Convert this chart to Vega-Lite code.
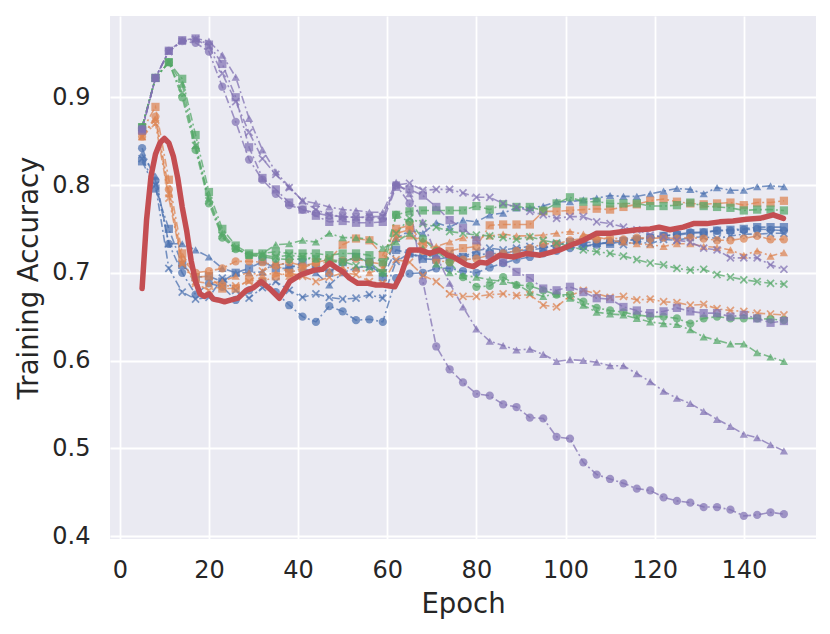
{
  "$schema": "https://vega.github.io/schema/vega-lite/v6.json",
  "width": 706,
  "height": 523,
  "autosize": "none",
  "padding": {"left": 110, "top": 16, "right": 14, "bottom": 95},
  "background": "white",
  "config": {
    "view": {"fill": "#EAEAF2", "stroke": null},
    "axis": {
      "domain": false,
      "ticks": false,
      "grid": true,
      "gridColor": "#FFFFFF",
      "gridWidth": 1.8,
      "labelFont": "DejaVu Sans",
      "labelFontSize": 24,
      "labelColor": "#262626",
      "titleFont": "DejaVu Sans",
      "titleFontSize": 27.5,
      "titleFontWeight": "normal",
      "titleColor": "#262626"
    }
  },
  "datasets": {
    "runs": [
      {"s":"bc","e":5,"v":0.842},{"s":"bc","e":8,"v":0.805},{"s":"bc","e":11,"v":0.733},{"s":"bc","e":14,"v":0.700},{"s":"bc","e":17,"v":0.675},{"s":"bc","e":20,"v":0.688},{"s":"bc","e":23,"v":0.684},{"s":"bc","e":26,"v":0.669},{"s":"bc","e":29,"v":0.680},{"s":"bc","e":32,"v":0.690},{"s":"bc","e":35,"v":0.678},{"s":"bc","e":38,"v":0.663},{"s":"bc","e":41,"v":0.650},{"s":"bc","e":44,"v":0.644},{"s":"bc","e":47,"v":0.662},{"s":"bc","e":50,"v":0.656},{"s":"bc","e":53,"v":0.646},{"s":"bc","e":56,"v":0.647},{"s":"bc","e":59,"v":0.644},{"s":"bc","e":62,"v":0.694},{"s":"bc","e":65,"v":0.699},{"s":"bc","e":68,"v":0.700},{"s":"bc","e":71,"v":0.705},{"s":"bc","e":74,"v":0.705},{"s":"bc","e":77,"v":0.702},{"s":"bc","e":80,"v":0.700},{"s":"bc","e":83,"v":0.706},{"s":"bc","e":86,"v":0.711},{"s":"bc","e":89,"v":0.715},{"s":"bc","e":92,"v":0.718},{"s":"bc","e":95,"v":0.722},{"s":"bc","e":98,"v":0.725},{"s":"bc","e":101,"v":0.728},{"s":"bc","e":104,"v":0.730},{"s":"bc","e":107,"v":0.732},{"s":"bc","e":110,"v":0.735},{"s":"bc","e":113,"v":0.737},{"s":"bc","e":116,"v":0.738},{"s":"bc","e":119,"v":0.740},{"s":"bc","e":122,"v":0.742},{"s":"bc","e":125,"v":0.744},{"s":"bc","e":128,"v":0.746},{"s":"bc","e":131,"v":0.746},{"s":"bc","e":134,"v":0.748},{"s":"bc","e":137,"v":0.748},{"s":"bc","e":140,"v":0.749},{"s":"bc","e":143,"v":0.750},{"s":"bc","e":146,"v":0.749},{"s":"bc","e":149,"v":0.748},
      {"s":"bs","e":5,"v":0.827},{"s":"bs","e":8,"v":0.796},{"s":"bs","e":11,"v":0.750},{"s":"bs","e":14,"v":0.709},{"s":"bs","e":17,"v":0.695},{"s":"bs","e":20,"v":0.696},{"s":"bs","e":23,"v":0.690},{"s":"bs","e":26,"v":0.700},{"s":"bs","e":29,"v":0.705},{"s":"bs","e":32,"v":0.713},{"s":"bs","e":35,"v":0.705},{"s":"bs","e":38,"v":0.705},{"s":"bs","e":41,"v":0.712},{"s":"bs","e":44,"v":0.705},{"s":"bs","e":47,"v":0.700},{"s":"bs","e":50,"v":0.712},{"s":"bs","e":53,"v":0.718},{"s":"bs","e":56,"v":0.712},{"s":"bs","e":59,"v":0.695},{"s":"bs","e":62,"v":0.726},{"s":"bs","e":65,"v":0.722},{"s":"bs","e":68,"v":0.716},{"s":"bs","e":71,"v":0.715},{"s":"bs","e":74,"v":0.718},{"s":"bs","e":77,"v":0.718},{"s":"bs","e":80,"v":0.720},{"s":"bs","e":83,"v":0.722},{"s":"bs","e":86,"v":0.722},{"s":"bs","e":89,"v":0.725},{"s":"bs","e":92,"v":0.726},{"s":"bs","e":95,"v":0.728},{"s":"bs","e":98,"v":0.732},{"s":"bs","e":101,"v":0.735},{"s":"bs","e":104,"v":0.735},{"s":"bs","e":107,"v":0.734},{"s":"bs","e":110,"v":0.733},{"s":"bs","e":113,"v":0.736},{"s":"bs","e":116,"v":0.738},{"s":"bs","e":119,"v":0.740},{"s":"bs","e":122,"v":0.742},{"s":"bs","e":125,"v":0.743},{"s":"bs","e":128,"v":0.745},{"s":"bs","e":131,"v":0.746},{"s":"bs","e":134,"v":0.748},{"s":"bs","e":137,"v":0.749},{"s":"bs","e":140,"v":0.750},{"s":"bs","e":143,"v":0.752},{"s":"bs","e":146,"v":0.752},{"s":"bs","e":149,"v":0.752},
      {"s":"bt","e":5,"v":0.835},{"s":"bt","e":8,"v":0.810},{"s":"bt","e":11,"v":0.733},{"s":"bt","e":14,"v":0.733},{"s":"bt","e":17,"v":0.726},{"s":"bt","e":20,"v":0.718},{"s":"bt","e":23,"v":0.705},{"s":"bt","e":26,"v":0.700},{"s":"bt","e":29,"v":0.700},{"s":"bt","e":32,"v":0.701},{"s":"bt","e":35,"v":0.712},{"s":"bt","e":38,"v":0.708},{"s":"bt","e":41,"v":0.705},{"s":"bt","e":44,"v":0.700},{"s":"bt","e":47,"v":0.686},{"s":"bt","e":50,"v":0.700},{"s":"bt","e":53,"v":0.706},{"s":"bt","e":56,"v":0.707},{"s":"bt","e":59,"v":0.700},{"s":"bt","e":62,"v":0.739},{"s":"bt","e":65,"v":0.748},{"s":"bt","e":68,"v":0.745},{"s":"bt","e":71,"v":0.757},{"s":"bt","e":74,"v":0.752},{"s":"bt","e":77,"v":0.760},{"s":"bt","e":80,"v":0.758},{"s":"bt","e":83,"v":0.766},{"s":"bt","e":86,"v":0.768},{"s":"bt","e":89,"v":0.774},{"s":"bt","e":92,"v":0.774},{"s":"bt","e":95,"v":0.776},{"s":"bt","e":98,"v":0.781},{"s":"bt","e":101,"v":0.781},{"s":"bt","e":104,"v":0.783},{"s":"bt","e":107,"v":0.785},{"s":"bt","e":110,"v":0.788},{"s":"bt","e":113,"v":0.787},{"s":"bt","e":116,"v":0.787},{"s":"bt","e":119,"v":0.790},{"s":"bt","e":122,"v":0.793},{"s":"bt","e":125,"v":0.796},{"s":"bt","e":128,"v":0.795},{"s":"bt","e":131,"v":0.790},{"s":"bt","e":134,"v":0.797},{"s":"bt","e":137,"v":0.794},{"s":"bt","e":140,"v":0.794},{"s":"bt","e":143,"v":0.798},{"s":"bt","e":146,"v":0.799},{"s":"bt","e":149,"v":0.798},
      {"s":"bx","e":5,"v":0.830},{"s":"bx","e":8,"v":0.800},{"s":"bx","e":11,"v":0.705},{"s":"bx","e":14,"v":0.678},{"s":"bx","e":17,"v":0.670},{"s":"bx","e":20,"v":0.672},{"s":"bx","e":23,"v":0.694},{"s":"bx","e":26,"v":0.680},{"s":"bx","e":29,"v":0.671},{"s":"bx","e":32,"v":0.683},{"s":"bx","e":35,"v":0.690},{"s":"bx","e":38,"v":0.680},{"s":"bx","e":41,"v":0.672},{"s":"bx","e":44,"v":0.676},{"s":"bx","e":47,"v":0.672},{"s":"bx","e":50,"v":0.670},{"s":"bx","e":53,"v":0.671},{"s":"bx","e":56,"v":0.675},{"s":"bx","e":59,"v":0.671},{"s":"bx","e":62,"v":0.713},{"s":"bx","e":65,"v":0.722},{"s":"bx","e":68,"v":0.718},{"s":"bx","e":71,"v":0.720},{"s":"bx","e":74,"v":0.722},{"s":"bx","e":77,"v":0.718},{"s":"bx","e":80,"v":0.725},{"s":"bx","e":83,"v":0.728},{"s":"bx","e":86,"v":0.726},{"s":"bx","e":89,"v":0.728},{"s":"bx","e":92,"v":0.730},{"s":"bx","e":95,"v":0.728},{"s":"bx","e":98,"v":0.732},{"s":"bx","e":101,"v":0.734},{"s":"bx","e":104,"v":0.730},{"s":"bx","e":107,"v":0.733},{"s":"bx","e":110,"v":0.735},{"s":"bx","e":113,"v":0.732},{"s":"bx","e":116,"v":0.736},{"s":"bx","e":119,"v":0.733},{"s":"bx","e":122,"v":0.738},{"s":"bx","e":125,"v":0.737},{"s":"bx","e":128,"v":0.740},{"s":"bx","e":131,"v":0.741},{"s":"bx","e":134,"v":0.739},{"s":"bx","e":137,"v":0.742},{"s":"bx","e":140,"v":0.744},{"s":"bx","e":143,"v":0.744},{"s":"bx","e":146,"v":0.745},{"s":"bx","e":149,"v":0.745},
      {"s":"oc","e":5,"v":0.855},{"s":"oc","e":8,"v":0.878},{"s":"oc","e":11,"v":0.795},{"s":"oc","e":14,"v":0.715},{"s":"oc","e":17,"v":0.700},{"s":"oc","e":20,"v":0.702},{"s":"oc","e":23,"v":0.705},{"s":"oc","e":26,"v":0.713},{"s":"oc","e":29,"v":0.713},{"s":"oc","e":32,"v":0.712},{"s":"oc","e":35,"v":0.708},{"s":"oc","e":38,"v":0.712},{"s":"oc","e":41,"v":0.708},{"s":"oc","e":44,"v":0.711},{"s":"oc","e":47,"v":0.712},{"s":"oc","e":50,"v":0.714},{"s":"oc","e":53,"v":0.716},{"s":"oc","e":56,"v":0.712},{"s":"oc","e":59,"v":0.710},{"s":"oc","e":62,"v":0.745},{"s":"oc","e":65,"v":0.749},{"s":"oc","e":68,"v":0.725},{"s":"oc","e":71,"v":0.714},{"s":"oc","e":74,"v":0.712},{"s":"oc","e":77,"v":0.715},{"s":"oc","e":80,"v":0.716},{"s":"oc","e":83,"v":0.720},{"s":"oc","e":86,"v":0.722},{"s":"oc","e":89,"v":0.725},{"s":"oc","e":92,"v":0.728},{"s":"oc","e":95,"v":0.733},{"s":"oc","e":98,"v":0.733},{"s":"oc","e":101,"v":0.737},{"s":"oc","e":104,"v":0.739},{"s":"oc","e":107,"v":0.738},{"s":"oc","e":110,"v":0.740},{"s":"oc","e":113,"v":0.738},{"s":"oc","e":116,"v":0.740},{"s":"oc","e":119,"v":0.739},{"s":"oc","e":122,"v":0.740},{"s":"oc","e":125,"v":0.739},{"s":"oc","e":128,"v":0.740},{"s":"oc","e":131,"v":0.739},{"s":"oc","e":134,"v":0.737},{"s":"oc","e":137,"v":0.737},{"s":"oc","e":140,"v":0.739},{"s":"oc","e":143,"v":0.742},{"s":"oc","e":146,"v":0.738},{"s":"oc","e":149,"v":0.738},
      {"s":"os","e":5,"v":0.862},{"s":"os","e":8,"v":0.889},{"s":"os","e":11,"v":0.806},{"s":"os","e":14,"v":0.722},{"s":"os","e":17,"v":0.695},{"s":"os","e":20,"v":0.696},{"s":"os","e":23,"v":0.682},{"s":"os","e":26,"v":0.682},{"s":"os","e":29,"v":0.692},{"s":"os","e":32,"v":0.690},{"s":"os","e":35,"v":0.696},{"s":"os","e":38,"v":0.700},{"s":"os","e":41,"v":0.705},{"s":"os","e":44,"v":0.712},{"s":"os","e":47,"v":0.715},{"s":"os","e":50,"v":0.732},{"s":"os","e":53,"v":0.739},{"s":"os","e":56,"v":0.737},{"s":"os","e":59,"v":0.720},{"s":"os","e":62,"v":0.750},{"s":"os","e":65,"v":0.754},{"s":"os","e":68,"v":0.733},{"s":"os","e":71,"v":0.726},{"s":"os","e":74,"v":0.725},{"s":"os","e":77,"v":0.728},{"s":"os","e":80,"v":0.730},{"s":"os","e":83,"v":0.754},{"s":"os","e":86,"v":0.755},{"s":"os","e":89,"v":0.755},{"s":"os","e":92,"v":0.755},{"s":"os","e":95,"v":0.770},{"s":"os","e":98,"v":0.770},{"s":"os","e":101,"v":0.771},{"s":"os","e":104,"v":0.772},{"s":"os","e":107,"v":0.773},{"s":"os","e":110,"v":0.772},{"s":"os","e":113,"v":0.775},{"s":"os","e":116,"v":0.778},{"s":"os","e":119,"v":0.782},{"s":"os","e":122,"v":0.784},{"s":"os","e":125,"v":0.781},{"s":"os","e":128,"v":0.779},{"s":"os","e":131,"v":0.778},{"s":"os","e":134,"v":0.779},{"s":"os","e":137,"v":0.780},{"s":"os","e":140,"v":0.777},{"s":"os","e":143,"v":0.780},{"s":"os","e":146,"v":0.780},{"s":"os","e":149,"v":0.782},
      {"s":"ot","e":5,"v":0.855},{"s":"ot","e":8,"v":0.875},{"s":"ot","e":11,"v":0.790},{"s":"ot","e":14,"v":0.712},{"s":"ot","e":17,"v":0.690},{"s":"ot","e":20,"v":0.688},{"s":"ot","e":23,"v":0.690},{"s":"ot","e":26,"v":0.696},{"s":"ot","e":29,"v":0.700},{"s":"ot","e":32,"v":0.697},{"s":"ot","e":35,"v":0.700},{"s":"ot","e":38,"v":0.696},{"s":"ot","e":41,"v":0.700},{"s":"ot","e":44,"v":0.705},{"s":"ot","e":47,"v":0.702},{"s":"ot","e":50,"v":0.706},{"s":"ot","e":53,"v":0.705},{"s":"ot","e":56,"v":0.700},{"s":"ot","e":59,"v":0.705},{"s":"ot","e":62,"v":0.740},{"s":"ot","e":65,"v":0.742},{"s":"ot","e":68,"v":0.737},{"s":"ot","e":71,"v":0.730},{"s":"ot","e":74,"v":0.735},{"s":"ot","e":77,"v":0.740},{"s":"ot","e":80,"v":0.740},{"s":"ot","e":83,"v":0.742},{"s":"ot","e":86,"v":0.744},{"s":"ot","e":89,"v":0.742},{"s":"ot","e":92,"v":0.742},{"s":"ot","e":95,"v":0.743},{"s":"ot","e":98,"v":0.745},{"s":"ot","e":101,"v":0.747},{"s":"ot","e":104,"v":0.744},{"s":"ot","e":107,"v":0.741},{"s":"ot","e":110,"v":0.737},{"s":"ot","e":113,"v":0.735},{"s":"ot","e":116,"v":0.733},{"s":"ot","e":119,"v":0.732},{"s":"ot","e":122,"v":0.730},{"s":"ot","e":125,"v":0.733},{"s":"ot","e":128,"v":0.733},{"s":"ot","e":131,"v":0.730},{"s":"ot","e":134,"v":0.729},{"s":"ot","e":137,"v":0.726},{"s":"ot","e":140,"v":0.720},{"s":"ot","e":143,"v":0.725},{"s":"ot","e":146,"v":0.719},{"s":"ot","e":149,"v":0.723},
      {"s":"ox","e":5,"v":0.855},{"s":"ox","e":8,"v":0.870},{"s":"ox","e":11,"v":0.785},{"s":"ox","e":14,"v":0.710},{"s":"ox","e":17,"v":0.688},{"s":"ox","e":20,"v":0.680},{"s":"ox","e":23,"v":0.685},{"s":"ox","e":26,"v":0.685},{"s":"ox","e":29,"v":0.690},{"s":"ox","e":32,"v":0.702},{"s":"ox","e":35,"v":0.709},{"s":"ox","e":38,"v":0.700},{"s":"ox","e":41,"v":0.696},{"s":"ox","e":44,"v":0.690},{"s":"ox","e":47,"v":0.695},{"s":"ox","e":50,"v":0.700},{"s":"ox","e":53,"v":0.698},{"s":"ox","e":56,"v":0.690},{"s":"ox","e":59,"v":0.688},{"s":"ox","e":62,"v":0.715},{"s":"ox","e":65,"v":0.712},{"s":"ox","e":68,"v":0.697},{"s":"ox","e":71,"v":0.690},{"s":"ox","e":74,"v":0.676},{"s":"ox","e":77,"v":0.673},{"s":"ox","e":80,"v":0.673},{"s":"ox","e":83,"v":0.675},{"s":"ox","e":86,"v":0.676},{"s":"ox","e":89,"v":0.674},{"s":"ox","e":92,"v":0.675},{"s":"ox","e":95,"v":0.663},{"s":"ox","e":98,"v":0.661},{"s":"ox","e":101,"v":0.674},{"s":"ox","e":104,"v":0.680},{"s":"ox","e":107,"v":0.676},{"s":"ox","e":110,"v":0.672},{"s":"ox","e":113,"v":0.673},{"s":"ox","e":116,"v":0.669},{"s":"ox","e":119,"v":0.670},{"s":"ox","e":122,"v":0.667},{"s":"ox","e":125,"v":0.666},{"s":"ox","e":128,"v":0.663},{"s":"ox","e":131,"v":0.664},{"s":"ox","e":134,"v":0.659},{"s":"ox","e":137,"v":0.657},{"s":"ox","e":140,"v":0.656},{"s":"ox","e":143,"v":0.654},{"s":"ox","e":146,"v":0.653},{"s":"ox","e":149,"v":0.652},
      {"s":"gc","e":5,"v":0.866},{"s":"gc","e":8,"v":0.922},{"s":"gc","e":11,"v":0.940},{"s":"gc","e":14,"v":0.900},{"s":"gc","e":17,"v":0.840},{"s":"gc","e":20,"v":0.779},{"s":"gc","e":23,"v":0.740},{"s":"gc","e":26,"v":0.727},{"s":"gc","e":29,"v":0.720},{"s":"gc","e":32,"v":0.718},{"s":"gc","e":35,"v":0.716},{"s":"gc","e":38,"v":0.715},{"s":"gc","e":41,"v":0.716},{"s":"gc","e":44,"v":0.716},{"s":"gc","e":47,"v":0.713},{"s":"gc","e":50,"v":0.712},{"s":"gc","e":53,"v":0.718},{"s":"gc","e":56,"v":0.712},{"s":"gc","e":59,"v":0.700},{"s":"gc","e":62,"v":0.766},{"s":"gc","e":65,"v":0.758},{"s":"gc","e":68,"v":0.739},{"s":"gc","e":71,"v":0.725},{"s":"gc","e":74,"v":0.712},{"s":"gc","e":77,"v":0.695},{"s":"gc","e":80,"v":0.684},{"s":"gc","e":83,"v":0.685},{"s":"gc","e":86,"v":0.695},{"s":"gc","e":89,"v":0.686},{"s":"gc","e":92,"v":0.685},{"s":"gc","e":95,"v":0.680},{"s":"gc","e":98,"v":0.675},{"s":"gc","e":101,"v":0.675},{"s":"gc","e":104,"v":0.667},{"s":"gc","e":107,"v":0.660},{"s":"gc","e":110,"v":0.657},{"s":"gc","e":113,"v":0.655},{"s":"gc","e":116,"v":0.652},{"s":"gc","e":119,"v":0.650},{"s":"gc","e":122,"v":0.650},{"s":"gc","e":125,"v":0.648},{"s":"gc","e":128,"v":0.642},{"s":"gc","e":131,"v":0.648},{"s":"gc","e":134,"v":0.650},{"s":"gc","e":137,"v":0.648},{"s":"gc","e":140,"v":0.648},{"s":"gc","e":143,"v":0.648},{"s":"gc","e":146,"v":0.647},{"s":"gc","e":149,"v":0.646},
      {"s":"gs","e":5,"v":0.866},{"s":"gs","e":8,"v":0.922},{"s":"gs","e":11,"v":0.940},{"s":"gs","e":14,"v":0.921},{"s":"gs","e":17,"v":0.857},{"s":"gs","e":20,"v":0.792},{"s":"gs","e":23,"v":0.750},{"s":"gs","e":26,"v":0.731},{"s":"gs","e":29,"v":0.722},{"s":"gs","e":32,"v":0.722},{"s":"gs","e":35,"v":0.724},{"s":"gs","e":38,"v":0.722},{"s":"gs","e":41,"v":0.722},{"s":"gs","e":44,"v":0.722},{"s":"gs","e":47,"v":0.720},{"s":"gs","e":50,"v":0.722},{"s":"gs","e":53,"v":0.722},{"s":"gs","e":56,"v":0.720},{"s":"gs","e":59,"v":0.712},{"s":"gs","e":62,"v":0.766},{"s":"gs","e":65,"v":0.770},{"s":"gs","e":68,"v":0.771},{"s":"gs","e":71,"v":0.771},{"s":"gs","e":74,"v":0.771},{"s":"gs","e":77,"v":0.771},{"s":"gs","e":80,"v":0.776},{"s":"gs","e":83,"v":0.772},{"s":"gs","e":86,"v":0.778},{"s":"gs","e":89,"v":0.775},{"s":"gs","e":92,"v":0.775},{"s":"gs","e":95,"v":0.771},{"s":"gs","e":98,"v":0.779},{"s":"gs","e":101,"v":0.786},{"s":"gs","e":104,"v":0.781},{"s":"gs","e":107,"v":0.781},{"s":"gs","e":110,"v":0.779},{"s":"gs","e":113,"v":0.779},{"s":"gs","e":116,"v":0.779},{"s":"gs","e":119,"v":0.776},{"s":"gs","e":122,"v":0.776},{"s":"gs","e":125,"v":0.777},{"s":"gs","e":128,"v":0.780},{"s":"gs","e":131,"v":0.776},{"s":"gs","e":134,"v":0.775},{"s":"gs","e":137,"v":0.774},{"s":"gs","e":140,"v":0.771},{"s":"gs","e":143,"v":0.772},{"s":"gs","e":146,"v":0.772},{"s":"gs","e":149,"v":0.771},
      {"s":"gt","e":5,"v":0.866},{"s":"gt","e":8,"v":0.922},{"s":"gt","e":11,"v":0.940},{"s":"gt","e":14,"v":0.915},{"s":"gt","e":17,"v":0.845},{"s":"gt","e":20,"v":0.785},{"s":"gt","e":23,"v":0.745},{"s":"gt","e":26,"v":0.728},{"s":"gt","e":29,"v":0.720},{"s":"gt","e":32,"v":0.722},{"s":"gt","e":35,"v":0.732},{"s":"gt","e":38,"v":0.733},{"s":"gt","e":41,"v":0.737},{"s":"gt","e":44,"v":0.735},{"s":"gt","e":47,"v":0.745},{"s":"gt","e":50,"v":0.740},{"s":"gt","e":53,"v":0.740},{"s":"gt","e":56,"v":0.738},{"s":"gt","e":59,"v":0.728},{"s":"gt","e":62,"v":0.735},{"s":"gt","e":65,"v":0.745},{"s":"gt","e":68,"v":0.728},{"s":"gt","e":71,"v":0.710},{"s":"gt","e":74,"v":0.700},{"s":"gt","e":77,"v":0.697},{"s":"gt","e":80,"v":0.695},{"s":"gt","e":83,"v":0.692},{"s":"gt","e":86,"v":0.690},{"s":"gt","e":89,"v":0.687},{"s":"gt","e":92,"v":0.678},{"s":"gt","e":95,"v":0.673},{"s":"gt","e":98,"v":0.676},{"s":"gt","e":101,"v":0.671},{"s":"gt","e":104,"v":0.663},{"s":"gt","e":107,"v":0.655},{"s":"gt","e":110,"v":0.653},{"s":"gt","e":113,"v":0.652},{"s":"gt","e":116,"v":0.648},{"s":"gt","e":119,"v":0.644},{"s":"gt","e":122,"v":0.642},{"s":"gt","e":125,"v":0.641},{"s":"gt","e":128,"v":0.635},{"s":"gt","e":131,"v":0.627},{"s":"gt","e":134,"v":0.623},{"s":"gt","e":137,"v":0.619},{"s":"gt","e":140,"v":0.619},{"s":"gt","e":143,"v":0.609},{"s":"gt","e":146,"v":0.604},{"s":"gt","e":149,"v":0.599},
      {"s":"gx","e":5,"v":0.866},{"s":"gx","e":8,"v":0.922},{"s":"gx","e":11,"v":0.940},{"s":"gx","e":14,"v":0.905},{"s":"gx","e":17,"v":0.845},{"s":"gx","e":20,"v":0.782},{"s":"gx","e":23,"v":0.742},{"s":"gx","e":26,"v":0.728},{"s":"gx","e":29,"v":0.720},{"s":"gx","e":32,"v":0.720},{"s":"gx","e":35,"v":0.718},{"s":"gx","e":38,"v":0.720},{"s":"gx","e":41,"v":0.718},{"s":"gx","e":44,"v":0.716},{"s":"gx","e":47,"v":0.715},{"s":"gx","e":50,"v":0.713},{"s":"gx","e":53,"v":0.708},{"s":"gx","e":56,"v":0.706},{"s":"gx","e":59,"v":0.700},{"s":"gx","e":62,"v":0.745},{"s":"gx","e":65,"v":0.762},{"s":"gx","e":68,"v":0.756},{"s":"gx","e":71,"v":0.752},{"s":"gx","e":74,"v":0.747},{"s":"gx","e":77,"v":0.745},{"s":"gx","e":80,"v":0.743},{"s":"gx","e":83,"v":0.742},{"s":"gx","e":86,"v":0.740},{"s":"gx","e":89,"v":0.738},{"s":"gx","e":92,"v":0.741},{"s":"gx","e":95,"v":0.737},{"s":"gx","e":98,"v":0.734},{"s":"gx","e":101,"v":0.730},{"s":"gx","e":104,"v":0.726},{"s":"gx","e":107,"v":0.724},{"s":"gx","e":110,"v":0.722},{"s":"gx","e":113,"v":0.719},{"s":"gx","e":116,"v":0.715},{"s":"gx","e":119,"v":0.711},{"s":"gx","e":122,"v":0.709},{"s":"gx","e":125,"v":0.705},{"s":"gx","e":128,"v":0.703},{"s":"gx","e":131,"v":0.704},{"s":"gx","e":134,"v":0.698},{"s":"gx","e":137,"v":0.695},{"s":"gx","e":140,"v":0.692},{"s":"gx","e":143,"v":0.690},{"s":"gx","e":146,"v":0.688},{"s":"gx","e":149,"v":0.687},
      {"s":"pc","e":5,"v":0.864},{"s":"pc","e":8,"v":0.922},{"s":"pc","e":11,"v":0.953},{"s":"pc","e":14,"v":0.964},{"s":"pc","e":17,"v":0.962},{"s":"pc","e":20,"v":0.952},{"s":"pc","e":23,"v":0.912},{"s":"pc","e":26,"v":0.872},{"s":"pc","e":29,"v":0.829},{"s":"pc","e":32,"v":0.806},{"s":"pc","e":35,"v":0.790},{"s":"pc","e":38,"v":0.777},{"s":"pc","e":41,"v":0.772},{"s":"pc","e":44,"v":0.768},{"s":"pc","e":47,"v":0.765},{"s":"pc","e":50,"v":0.764},{"s":"pc","e":53,"v":0.763},{"s":"pc","e":56,"v":0.763},{"s":"pc","e":59,"v":0.762},{"s":"pc","e":62,"v":0.800},{"s":"pc","e":65,"v":0.779},{"s":"pc","e":68,"v":0.690},{"s":"pc","e":71,"v":0.616},{"s":"pc","e":74,"v":0.590},{"s":"pc","e":77,"v":0.575},{"s":"pc","e":80,"v":0.562},{"s":"pc","e":83,"v":0.560},{"s":"pc","e":86,"v":0.550},{"s":"pc","e":89,"v":0.547},{"s":"pc","e":92,"v":0.535},{"s":"pc","e":95,"v":0.534},{"s":"pc","e":98,"v":0.513},{"s":"pc","e":101,"v":0.511},{"s":"pc","e":104,"v":0.484},{"s":"pc","e":107,"v":0.470},{"s":"pc","e":110,"v":0.465},{"s":"pc","e":113,"v":0.460},{"s":"pc","e":116,"v":0.454},{"s":"pc","e":119,"v":0.452},{"s":"pc","e":122,"v":0.444},{"s":"pc","e":125,"v":0.440},{"s":"pc","e":128,"v":0.438},{"s":"pc","e":131,"v":0.433},{"s":"pc","e":134,"v":0.433},{"s":"pc","e":137,"v":0.430},{"s":"pc","e":140,"v":0.423},{"s":"pc","e":143,"v":0.424},{"s":"pc","e":146,"v":0.427},{"s":"pc","e":149,"v":0.425},
      {"s":"ps","e":5,"v":0.862},{"s":"ps","e":8,"v":0.922},{"s":"ps","e":11,"v":0.953},{"s":"ps","e":14,"v":0.965},{"s":"ps","e":17,"v":0.967},{"s":"ps","e":20,"v":0.960},{"s":"ps","e":23,"v":0.938},{"s":"ps","e":26,"v":0.900},{"s":"ps","e":29,"v":0.843},{"s":"ps","e":32,"v":0.808},{"s":"ps","e":35,"v":0.795},{"s":"ps","e":38,"v":0.780},{"s":"ps","e":41,"v":0.772},{"s":"ps","e":44,"v":0.765},{"s":"ps","e":47,"v":0.758},{"s":"ps","e":50,"v":0.759},{"s":"ps","e":53,"v":0.757},{"s":"ps","e":56,"v":0.757},{"s":"ps","e":59,"v":0.758},{"s":"ps","e":62,"v":0.798},{"s":"ps","e":65,"v":0.795},{"s":"ps","e":68,"v":0.788},{"s":"ps","e":71,"v":0.775},{"s":"ps","e":74,"v":0.760},{"s":"ps","e":77,"v":0.751},{"s":"ps","e":80,"v":0.737},{"s":"ps","e":83,"v":0.720},{"s":"ps","e":86,"v":0.712},{"s":"ps","e":89,"v":0.701},{"s":"ps","e":92,"v":0.694},{"s":"ps","e":95,"v":0.682},{"s":"ps","e":98,"v":0.680},{"s":"ps","e":101,"v":0.684},{"s":"ps","e":104,"v":0.678},{"s":"ps","e":107,"v":0.671},{"s":"ps","e":110,"v":0.670},{"s":"ps","e":113,"v":0.661},{"s":"ps","e":116,"v":0.657},{"s":"ps","e":119,"v":0.654},{"s":"ps","e":122,"v":0.656},{"s":"ps","e":125,"v":0.660},{"s":"ps","e":128,"v":0.656},{"s":"ps","e":131,"v":0.654},{"s":"ps","e":134,"v":0.654},{"s":"ps","e":137,"v":0.650},{"s":"ps","e":140,"v":0.652},{"s":"ps","e":143,"v":0.648},{"s":"ps","e":146,"v":0.643},{"s":"ps","e":149,"v":0.645},
      {"s":"pt","e":5,"v":0.864},{"s":"pt","e":8,"v":0.922},{"s":"pt","e":11,"v":0.953},{"s":"pt","e":14,"v":0.965},{"s":"pt","e":17,"v":0.967},{"s":"pt","e":20,"v":0.964},{"s":"pt","e":23,"v":0.948},{"s":"pt","e":26,"v":0.923},{"s":"pt","e":29,"v":0.876},{"s":"pt","e":32,"v":0.840},{"s":"pt","e":35,"v":0.815},{"s":"pt","e":38,"v":0.798},{"s":"pt","e":41,"v":0.782},{"s":"pt","e":44,"v":0.779},{"s":"pt","e":47,"v":0.775},{"s":"pt","e":50,"v":0.772},{"s":"pt","e":53,"v":0.771},{"s":"pt","e":56,"v":0.769},{"s":"pt","e":59,"v":0.769},{"s":"pt","e":62,"v":0.803},{"s":"pt","e":65,"v":0.790},{"s":"pt","e":68,"v":0.758},{"s":"pt","e":71,"v":0.720},{"s":"pt","e":74,"v":0.688},{"s":"pt","e":77,"v":0.661},{"s":"pt","e":80,"v":0.636},{"s":"pt","e":83,"v":0.622},{"s":"pt","e":86,"v":0.617},{"s":"pt","e":89,"v":0.612},{"s":"pt","e":92,"v":0.613},{"s":"pt","e":95,"v":0.607},{"s":"pt","e":98,"v":0.599},{"s":"pt","e":101,"v":0.601},{"s":"pt","e":104,"v":0.600},{"s":"pt","e":107,"v":0.598},{"s":"pt","e":110,"v":0.594},{"s":"pt","e":113,"v":0.594},{"s":"pt","e":116,"v":0.585},{"s":"pt","e":119,"v":0.576},{"s":"pt","e":122,"v":0.565},{"s":"pt","e":125,"v":0.557},{"s":"pt","e":128,"v":0.551},{"s":"pt","e":131,"v":0.542},{"s":"pt","e":134,"v":0.533},{"s":"pt","e":137,"v":0.525},{"s":"pt","e":140,"v":0.516},{"s":"pt","e":143,"v":0.512},{"s":"pt","e":146,"v":0.504},{"s":"pt","e":149,"v":0.497},
      {"s":"px","e":5,"v":0.864},{"s":"px","e":8,"v":0.922},{"s":"px","e":11,"v":0.952},{"s":"px","e":14,"v":0.964},{"s":"px","e":17,"v":0.966},{"s":"px","e":20,"v":0.958},{"s":"px","e":23,"v":0.927},{"s":"px","e":26,"v":0.895},{"s":"px","e":29,"v":0.860},{"s":"px","e":32,"v":0.830},{"s":"px","e":35,"v":0.812},{"s":"px","e":38,"v":0.797},{"s":"px","e":41,"v":0.782},{"s":"px","e":44,"v":0.772},{"s":"px","e":47,"v":0.766},{"s":"px","e":50,"v":0.764},{"s":"px","e":53,"v":0.763},{"s":"px","e":56,"v":0.764},{"s":"px","e":59,"v":0.764},{"s":"px","e":62,"v":0.800},{"s":"px","e":65,"v":0.802},{"s":"px","e":68,"v":0.794},{"s":"px","e":71,"v":0.795},{"s":"px","e":74,"v":0.795},{"s":"px","e":77,"v":0.791},{"s":"px","e":80,"v":0.786},{"s":"px","e":83,"v":0.786},{"s":"px","e":86,"v":0.779},{"s":"px","e":89,"v":0.775},{"s":"px","e":92,"v":0.770},{"s":"px","e":95,"v":0.766},{"s":"px","e":98,"v":0.762},{"s":"px","e":101,"v":0.764},{"s":"px","e":104,"v":0.764},{"s":"px","e":107,"v":0.758},{"s":"px","e":110,"v":0.756},{"s":"px","e":113,"v":0.752},{"s":"px","e":116,"v":0.749},{"s":"px","e":119,"v":0.743},{"s":"px","e":122,"v":0.741},{"s":"px","e":125,"v":0.737},{"s":"px","e":128,"v":0.735},{"s":"px","e":131,"v":0.728},{"s":"px","e":134,"v":0.726},{"s":"px","e":137,"v":0.717},{"s":"px","e":140,"v":0.717},{"s":"px","e":143,"v":0.717},{"s":"px","e":146,"v":0.709},{"s":"px","e":149,"v":0.704}
    ],
    "red": [
      {"e":5,"v":0.682},{"e":6,"v":0.760},{"e":7,"v":0.810},{"e":8,"v":0.835},{"e":9,"v":0.848},{"e":10,"v":0.853},{"e":11,"v":0.848},{"e":12,"v":0.833},{"e":13,"v":0.808},{"e":14,"v":0.775},{"e":15,"v":0.748},{"e":16,"v":0.714},{"e":17,"v":0.690},{"e":18,"v":0.676},{"e":19,"v":0.673},{"e":20,"v":0.676},{"e":21,"v":0.670},{"e":22,"v":0.669},{"e":23.5,"v":0.667},{"e":25,"v":0.669},{"e":26.5,"v":0.671},{"e":28.4,"v":0.680},{"e":30,"v":0.683},{"e":31.7,"v":0.690},{"e":33.6,"v":0.682},{"e":35.8,"v":0.671},{"e":37,"v":0.680},{"e":38.1,"v":0.690},{"e":40.7,"v":0.698},{"e":43.7,"v":0.703},{"e":45.5,"v":0.704},{"e":47.1,"v":0.711},{"e":48.5,"v":0.706},{"e":50.1,"v":0.701},{"e":51.5,"v":0.694},{"e":53.4,"v":0.688},{"e":55.7,"v":0.688},{"e":57.5,"v":0.686},{"e":59.1,"v":0.686},{"e":61.7,"v":0.684},{"e":63.2,"v":0.699},{"e":65,"v":0.726},{"e":67.3,"v":0.726},{"e":69.5,"v":0.722},{"e":71.8,"v":0.726},{"e":73.5,"v":0.720},{"e":74.8,"v":0.718},{"e":77.8,"v":0.709},{"e":79.3,"v":0.707},{"e":80.8,"v":0.712},{"e":82.3,"v":0.711},{"e":85.3,"v":0.720},{"e":88.3,"v":0.718},{"e":91.3,"v":0.722},{"e":94.3,"v":0.720},{"e":97.3,"v":0.724},{"e":98.7,"v":0.726},{"e":101,"v":0.731},{"e":104,"v":0.737},{"e":107,"v":0.745},{"e":110,"v":0.745},{"e":113,"v":0.747},{"e":116,"v":0.749},{"e":119,"v":0.750},{"e":121,"v":0.752},{"e":123.4,"v":0.749},{"e":126.4,"v":0.752},{"e":128.7,"v":0.756},{"e":131.7,"v":0.756},{"e":134.6,"v":0.758},{"e":137.6,"v":0.759},{"e":140.6,"v":0.761},{"e":143.6,"v":0.762},{"e":146.6,"v":0.766},{"e":148.9,"v":0.762}
    ]
  },
  "encoding": {
    "x": {
      "field": "e",
      "type": "quantitative",
      "title": "Epoch",
      "scale": {"domain": [-2.2, 156.2], "nice": false, "zero": false},
      "axis": {"values": [0, 20, 40, 60, 80, 100, 120, 140], "labelPadding": 19, "titlePadding": 8}
    },
    "y": {
      "field": "v",
      "type": "quantitative",
      "title": "Training Accuracy",
      "scale": {"domain": [0.3966, 0.9926], "nice": false, "zero": false},
      "axis": {"values": [0.4, 0.5, 0.6, 0.7, 0.8, 0.9], "format": ".1f", "labelPadding": 20, "titlePadding": 8}
    }
  },
  "layer": [
    {
      "data": {"name": "runs"},
      "mark": {"type": "line", "strokeWidth": 1.6, "opacity": 0.75, "strokeDash": [8, 3, 2, 3]},
      "encoding": {
        "detail": {"field": "s"},
        "color": {
          "field": "s",
          "type": "nominal",
          "legend": null,
          "scale": {
            "domain": ["bc", "bs", "bt", "bx", "oc", "os", "ot", "ox", "gc", "gs", "gt", "gx", "pc", "ps", "pt", "px"],
            "range": ["#4C72B0", "#4C72B0", "#4C72B0", "#4C72B0", "#DD8452", "#DD8452", "#DD8452", "#DD8452", "#55A868", "#55A868", "#55A868", "#55A868", "#8172B3", "#8172B3", "#8172B3", "#8172B3"]
          }
        }
      }
    },
    {
      "data": {"name": "runs"},
      "mark": {"type": "point", "filled": true, "opacity": 0.72, "size": 68},
      "encoding": {
        "color": {"field": "s", "type": "nominal", "legend": null},
        "shape": {
          "field": "s",
          "type": "nominal",
          "legend": null,
          "scale": {
            "domain": ["bc", "bs", "bt", "bx", "oc", "os", "ot", "ox", "gc", "gs", "gt", "gx", "pc", "ps", "pt", "px"],
            "range": ["circle", "square", "triangle-up", "M-1,-0.7L-0.7,-1L0,-0.3L0.7,-1L1,-0.7L0.3,0L1,0.7L0.7,1L0,0.3L-0.7,1L-1,0.7L-0.3,0Z", "circle", "square", "triangle-up", "M-1,-0.7L-0.7,-1L0,-0.3L0.7,-1L1,-0.7L0.3,0L1,0.7L0.7,1L0,0.3L-0.7,1L-1,0.7L-0.3,0Z", "circle", "square", "triangle-up", "M-1,-0.7L-0.7,-1L0,-0.3L0.7,-1L1,-0.7L0.3,0L1,0.7L0.7,1L0,0.3L-0.7,1L-1,0.7L-0.3,0Z", "circle", "square", "triangle-up", "M-1,-0.7L-0.7,-1L0,-0.3L0.7,-1L1,-0.7L0.3,0L1,0.7L0.7,1L0,0.3L-0.7,1L-1,0.7L-0.3,0Z"]
          }
        }
      }
    },
    {
      "data": {"name": "red"},
      "mark": {"type": "line", "color": "#C44E52", "strokeWidth": 5.5, "strokeJoin": "round", "strokeCap": "round"},
      "encoding": {}
    }
  ]
}
